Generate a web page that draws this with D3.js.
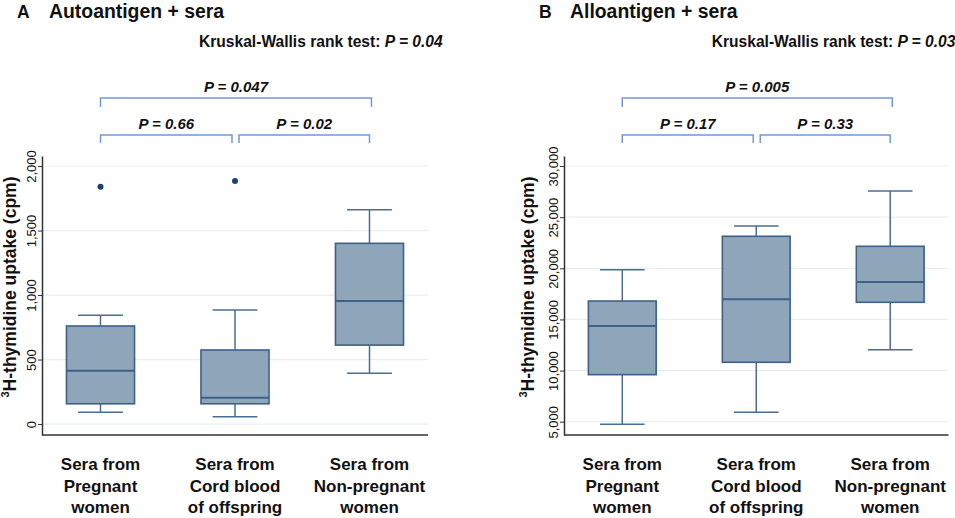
<!DOCTYPE html>
<html>
<head>
<meta charset="utf-8">
<script src="https://cdn.jsdelivr.net/npm/d3@7"></script>
<style>
  html, body { margin: 0; padding: 0; background: #fff; }
  svg { display: block; font-family: "Liberation Sans", Arial, Helvetica, sans-serif; }
</style>
</head>
<body>
<svg id="chart" width="955" height="518"></svg>
<script>
// ---- Data ----
const categories = ["Pregnant", "Cord", "NonPregnant"];
const categoryLabels = [
  ["Sera from", "Pregnant", "women"],
  ["Sera from", "Cord blood", "of offspring"],
  ["Sera from", "Non-pregnant", "women"]
];

// Panel A: Autoantigen + sera
const autoLow     = [91, 57, 393];
const autoQ1      = [157, 157, 612];
const autoMedian  = [413, 204, 953];
const autoQ3      = [760, 574, 1401];
const autoHigh    = [843, 884, 1661];
const autoOutliers = [[1840], [1884], []];
const autoTicks   = [0, 500, 1000, 1500, 2000];

// Panel B: Alloantigen + sera
const alloLow     = [4750, 5920, 12040];
const alloQ1      = [9600, 10810, 16675];
const alloMedian  = [14360, 16970, 18660];
const alloQ3      = [16800, 23130, 22150];
const alloHigh    = [19860, 24135, 27560];
const alloOutliers = [[], [], []];
const alloTicks   = [5000, 10000, 15000, 20000, 25000, 30000];

// Pairwise comparisons [from, to, label]
const autoPairs = [[0, 2, "0.047"], [0, 1, "0.66"], [1, 2, "0.02"]];
const alloPairs = [[0, 2, "0.005"], [0, 1, "0.17"], [1, 2, "0.33"]];
const autoKW = "0.04";
const alloKW = "0.03";

// ---- Styles ----
const boxFill = "#8fa5ba";
const boxStroke = "#3d6189";
const whiskerColor = "#4a6d93";
const outlierColor = "#1b3f6e";
const bracketColor = "#7099d8";
const gridColor = "#e8eff3";
const axisColor = "#333";

const svg = d3.select("#chart");

function panel(opts) {
  const g = svg.append("g");
  const x = d3.scalePoint().domain(categories).range([opts.left, opts.right]).padding(0.435);
  const y = d3.scaleLinear().domain(opts.domain).range([435, 156]);
  const step = x.step();
  const boxW = step * 0.506;
  const capW = step * 0.333;

  // Title
  g.append("text").attr("x", opts.letterX).attr("y", 18)
    .attr("font-size", 17.5).attr("font-weight", "bold").attr("fill", "#111").text(opts.letter);
  g.append("text").attr("x", opts.titleX).attr("y", 18)
    .attr("font-size", 19.4).attr("font-weight", "bold").attr("fill", "#111").text(opts.title);

  // Kruskal-Wallis
  const kw = g.append("text").attr("x", opts.kwX).attr("y", 47)
    .attr("font-size", 15.6).attr("font-weight", "bold").attr("fill", "#111");
  kw.append("tspan").text("Kruskal-Wallis rank test: ");
  kw.append("tspan").attr("font-style", "italic").text("P = " + opts.kw);

  // Gridlines
  g.append("g").selectAll("line").data(opts.ticks).join("line")
    .attr("x1", opts.left).attr("x2", opts.right)
    .attr("y1", d => y(d)).attr("y2", d => y(d))
    .attr("stroke", gridColor).attr("stroke-width", 1.2);

  // Y axis
  const ya = g.append("g").attr("transform", `translate(${opts.left},0)`)
    .call(d3.axisLeft(y).tickValues(opts.ticks).tickSize(4).tickSizeOuter(0)
      .tickFormat(d3.format(",")));
  ya.select(".domain").attr("stroke", axisColor).attr("stroke-width", 1.5);
  ya.selectAll(".tick line").attr("stroke", axisColor).attr("stroke-width", 1);
  ya.selectAll(".tick text")
    .attr("transform", "rotate(-90)")
    .attr("x", 0).attr("y", -6).attr("dy", null)
    .attr("text-anchor", "middle")
    .attr("font-size", 13).attr("fill", "#111")
    .attr("font-family", "'Liberation Sans', Arial, sans-serif");

  // X axis line
  g.append("line").attr("x1", opts.left).attr("x2", opts.right)
    .attr("y1", 435).attr("y2", 435).attr("stroke", axisColor).attr("stroke-width", 1.5);

  // Y title
  const yt = g.append("text")
    .attr("transform", `translate(${opts.ytitleX},287) rotate(-90)`)
    .attr("text-anchor", "middle").attr("font-size", 17.5).attr("font-weight", "bold").attr("fill", "#111");
  yt.append("tspan").attr("font-size", 11).attr("dy", -7).text("3");
  yt.append("tspan").attr("dy", 7).text("H-thymidine uptake (cpm)");

  // Boxes
  const data = categories.map((c, i) => ({
    c, lo: opts.low[i], q1: opts.q1[i], med: opts.median[i], q3: opts.q3[i], hi: opts.high[i], out: opts.outliers[i]
  }));
  const bg = g.append("g").selectAll("g").data(data).join("g");
  // whiskers
  bg.append("line").attr("x1", d => x(d.c)).attr("x2", d => x(d.c))
    .attr("y1", d => y(d.hi)).attr("y2", d => y(d.q3)).attr("stroke", whiskerColor).attr("stroke-width", 1.5);
  bg.append("line").attr("x1", d => x(d.c)).attr("x2", d => x(d.c))
    .attr("y1", d => y(d.q1)).attr("y2", d => y(d.lo)).attr("stroke", whiskerColor).attr("stroke-width", 1.5);
  bg.append("line").attr("x1", d => x(d.c) - capW / 2).attr("x2", d => x(d.c) + capW / 2)
    .attr("y1", d => y(d.hi)).attr("y2", d => y(d.hi)).attr("stroke", whiskerColor).attr("stroke-width", 1.5);
  bg.append("line").attr("x1", d => x(d.c) - capW / 2).attr("x2", d => x(d.c) + capW / 2)
    .attr("y1", d => y(d.lo)).attr("y2", d => y(d.lo)).attr("stroke", whiskerColor).attr("stroke-width", 1.5);
  // box
  bg.append("rect").attr("x", d => x(d.c) - boxW / 2).attr("width", boxW)
    .attr("y", d => y(d.q3)).attr("height", d => y(d.q1) - y(d.q3))
    .attr("fill", boxFill).attr("stroke", boxStroke).attr("stroke-width", 1.6);
  bg.append("line").attr("x1", d => x(d.c) - boxW / 2).attr("x2", d => x(d.c) + boxW / 2)
    .attr("y1", d => y(d.med)).attr("y2", d => y(d.med)).attr("stroke", boxStroke).attr("stroke-width", 2);
  // outliers
  bg.selectAll("circle").data(d => d.out.map(v => ({ c: d.c, v }))).join("circle")
    .attr("cx", d => x(d.c)).attr("cy", d => y(d.v)).attr("r", 3).attr("fill", outlierColor);

  // Brackets
  const bk = g.append("g");
  opts.pairs.forEach(([a, b, label]) => {
    const top = (b - a) > 1;
    const yh = top ? 98 : 135;
    const yd = top ? 107 : 143;
    const ty = top ? 92 : 129;
    let x1 = x(categories[a]), x2 = x(categories[b]);
    if (!top) {
      if (a === 1) x1 += 4;
      if (b === 1) x2 -= 3;
    } else {
      x2 += 2;
    }
    bk.append("path")
      .attr("d", `M${x1},${yd}V${yh}H${x2}V${yd}`)
      .attr("fill", "none").attr("stroke", bracketColor).attr("stroke-width", 1.5);
    const t = bk.append("text").attr("x", (x1 + x2) / 2).attr("y", ty)
      .attr("text-anchor", "middle").attr("font-size", 15).attr("font-weight", "bold")
      .attr("font-style", "italic").attr("fill", "#111");
    t.text("P = " + label);
  });

  // X labels
  const xl = g.append("g");
  categories.forEach((c, i) => {
    const t = xl.append("text").attr("text-anchor", "middle").attr("font-size", 17)
      .attr("font-weight", "bold").attr("fill", "#111");
    categoryLabels[i].forEach((line, j) => {
      t.append("tspan").attr("x", x(c)).attr("y", 470 + j * 21.5).text(line);
    });
  });
}

panel({
  left: 42, right: 428, domain: [-85, 2078], ticks: autoTicks,
  low: autoLow, q1: autoQ1, median: autoMedian, q3: autoQ3, high: autoHigh, outliers: autoOutliers,
  pairs: autoPairs, kw: autoKW, kwX: 199, letter: "A", letterX: 17, title: "Autoantigen + sera", titleX: 49,
  ytitleX: 16
});
panel({
  left: 564, right: 948.5, domain: [3700, 30980], ticks: alloTicks,
  low: alloLow, q1: alloQ1, median: alloMedian, q3: alloQ3, high: alloHigh, outliers: alloOutliers,
  pairs: alloPairs, kw: alloKW, kwX: 711.7, letter: "B", letterX: 539, title: "Alloantigen + sera", titleX: 570,
  ytitleX: 534
});
</script>
</body>
</html>
